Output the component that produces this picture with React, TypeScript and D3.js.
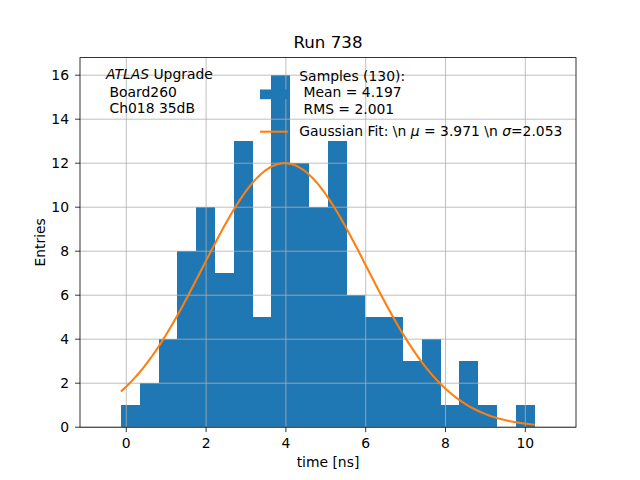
import React, { useEffect, useRef } from 'react';
import * as d3 from 'd3';

// histogram counts, 22 equal bins between binLo and binHi (ns)
const counts = [1, 2, 4, 8, 10, 7, 13, 5, 16, 12, 10, 13, 6, 5, 5, 3, 4, 1, 3, 1, 0, 1];
const binLo = -0.135;
const binHi = 10.235;
const xTicks = [0, 2, 4, 6, 8, 10];
const yTicks = [0, 2, 4, 6, 8, 10, 12, 14, 16];
// gaussian fit parameters shown in the legend
const fitMu = 3.971;
const fitSigma = 2.053;
const fitAmp = 12.0;

const App = () => {
  const ref = useRef<SVGSVGElement | null>(null);

  useEffect(() => {
    if (!ref.current) return;
    const svg = d3.select(ref.current);
    svg.selectAll('*').remove();

    const width = 640;
    const height = 480;
    const left = 80, right = 576, top = 57.6, bottom = 427.2;
    const font = 'DejaVu Sans, sans-serif';
    const blue = '#1f77b4';
    const orange = '#ff7f0e';

    svg.append('rect').attr('width', width).attr('height', height).attr('fill', 'white');

    const x = d3.scaleLinear().domain([-1.16, 11.27]).range([left, right]);
    const y = d3.scaleLinear().domain([0, 16.8]).range([bottom, top]);

    const binW = (binHi - binLo) / counts.length;

    // bars
    svg.append('g')
      .selectAll('rect')
      .data(counts)
      .enter()
      .append('rect')
      .attr('x', (d, i) => x(binLo + i * binW))
      .attr('width', (d, i) => x(binLo + (i + 1) * binW) - x(binLo + i * binW))
      .attr('y', d => y(d))
      .attr('height', d => y(0) - y(d))
      .attr('fill', blue)
      .attr('shape-rendering', 'crispEdges');

    // grid (drawn above the bars, like matplotlib)
    const grid = svg.append('g').attr('stroke', '#b0b0b0').attr('stroke-width', 0.8);
    xTicks.forEach(t => {
      grid.append('line').attr('x1', x(t)).attr('x2', x(t)).attr('y1', top).attr('y2', bottom);
    });
    yTicks.forEach(t => {
      grid.append('line').attr('x1', left).attr('x2', right).attr('y1', y(t)).attr('y2', y(t));
    });

    // gaussian fit curve
    const curveX = d3.range(0, 201).map(i => binLo + (binHi - binLo) * i / 200);
    const line = d3.line<number>()
      .x(d => x(d))
      .y(d => y(fitAmp * Math.exp(-((d - fitMu) ** 2) / (2 * fitSigma * fitSigma))));
    svg.append('path')
      .datum(curveX)
      .attr('d', line)
      .attr('fill', 'none')
      .attr('stroke', orange)
      .attr('stroke-width', 2.08);

    // spines
    svg.append('rect')
      .attr('x', left).attr('y', top)
      .attr('width', right - left).attr('height', bottom - top)
      .attr('fill', 'none').attr('stroke', 'black').attr('stroke-width', 0.8);

    // ticks
    const ticks = svg.append('g').attr('font-family', font).attr('font-size', 13.9).attr('fill', 'black');
    xTicks.forEach(t => {
      ticks.append('line').attr('x1', x(t)).attr('x2', x(t)).attr('y1', bottom).attr('y2', bottom + 4.9)
        .attr('stroke', 'black').attr('stroke-width', 0.8);
      ticks.append('text').attr('x', x(t)).attr('y', bottom + 20.5).attr('text-anchor', 'middle').text(t);
    });
    yTicks.forEach(t => {
      ticks.append('line').attr('x1', left - 4.9).attr('x2', left).attr('y1', y(t)).attr('y2', y(t))
        .attr('stroke', 'black').attr('stroke-width', 0.8);
      ticks.append('text').attr('x', left - 11).attr('y', y(t)).attr('dy', '0.36em')
        .attr('text-anchor', 'end').text(t);
    });

    // labels
    svg.append('text').attr('x', (left + right) / 2).attr('y', 48.3)
      .attr('text-anchor', 'middle').attr('font-family', font).attr('font-size', 16.67).text('Run 738');
    svg.append('text').attr('x', (left + right) / 2).attr('y', 466.5)
      .attr('text-anchor', 'middle').attr('font-family', font).attr('font-size', 13.9).text('time [ns]');
    svg.append('text')
      .attr('transform', `translate(44.5, ${(top + bottom) / 2}) rotate(-90)`)
      .attr('text-anchor', 'middle').attr('font-family', font).attr('font-size', 13.9).text('Entries');

    // ATLAS tag
    const tag = svg.append('g').attr('font-family', font).attr('font-size', 13.9);
    const t1 = tag.append('text').attr('x', 106).attr('y', 79);
    t1.append('tspan').attr('font-style', 'italic').text('ATLAS');
    t1.append('tspan').attr('dx', 4.4).text('Upgrade');
    tag.append('text').attr('x', 109.5).attr('y', 96.7).text('Board260');
    tag.append('text').attr('x', 109.5).attr('y', 112.7).text('Ch018 35dB');

    // legend
    const lg = svg.append('g').attr('font-family', font).attr('font-size', 13.9);
    lg.append('rect').attr('x', 260).attr('y', 89.5).attr('width', 27.8).attr('height', 9.7).attr('fill', blue);
    lg.append('text').attr('x', 299.3).attr('y', 81).text('Samples (130):');
    lg.append('text').attr('x', 303.5).attr('y', 97.4).text('Mean = 4.197');
    lg.append('text').attr('x', 303.5).attr('y', 113.6).text('RMS = 2.001');
    lg.append('line').attr('x1', 260).attr('x2', 287.8).attr('y1', 131.7).attr('y2', 131.7)
      .attr('stroke', orange).attr('stroke-width', 2.08);
    const g2 = lg.append('text').attr('x', 299.3).attr('y', 136.3).attr('xml:space', 'preserve')
      .style('white-space', 'pre');
    g2.append('tspan').text('Gaussian Fit: \\n ');
    g2.append('tspan').attr('font-style', 'italic').text('\u03bc');
    g2.append('tspan').text(' = 3.971 \\n ');
    g2.append('tspan').attr('font-style', 'italic').text('\u03c3');
    g2.append('tspan').text('=2.053');
  }, []);

  return (
    <svg
      ref={ref}
      width={640}
      height={480}
      style={{ position: 'absolute', left: 0, top: 0 }}
    />
  );
};

export default App;
